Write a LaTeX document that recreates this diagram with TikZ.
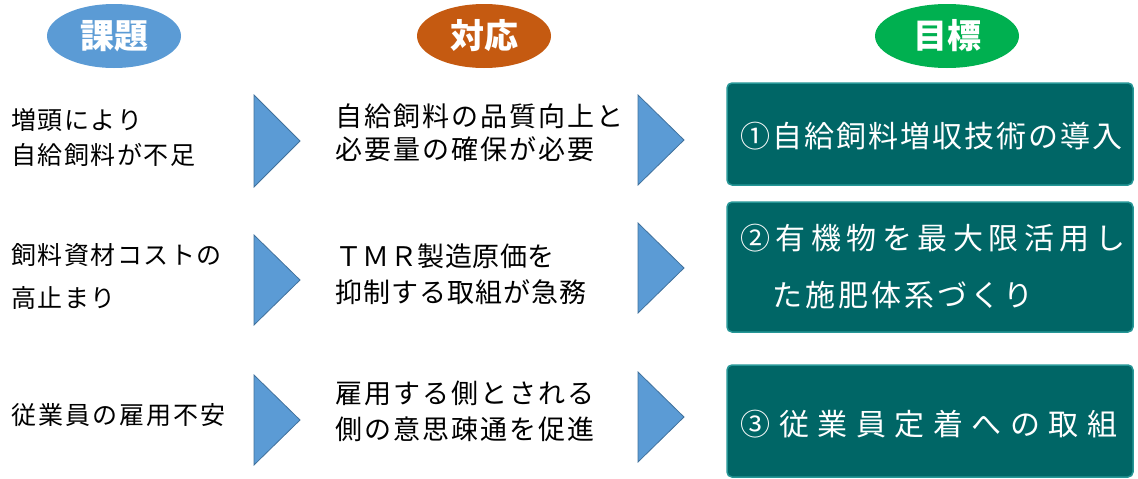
\documentclass[tikz,border=0pt]{standalone}
\usepackage{fontspec}
\setmainfont{Noto Sans CJK JP}
\usetikzlibrary{shapes.geometric}
\definecolor{hblue}{RGB}{91,155,213}
\definecolor{horange}{RGB}{197,90,17}
\definecolor{hgreen}{RGB}{0,176,80}
\definecolor{tblue}{RGB}{91,155,213}
\definecolor{tedge}{RGB}{65,113,156}
\definecolor{gfill}{RGB}{0,102,102}
\definecolor{gedge}{RGB}{38,150,150}
\def\spacedloop#1{\ifx\relax#1\else\hbox to \pitchlen{\hss#1\hss}\expandafter\spacedloop\fi}
\newcommand\spaced[2]{\def\pitchlen{#1}\spacedloop#2\relax}
\tikzset{
  hdr/.style={ellipse, inner sep=0pt, minimum width=134pt, minimum height=64pt, text=white,
    font=\bfseries\fontsize{34}{34}\selectfont},
  cola/.style={anchor=west, inner sep=0pt, text=black, font=\fontsize{25}{25}\selectfont},
  colb/.style={anchor=west, inner sep=0pt, text=black, font=\fontsize{27}{27}\selectfont},
  gtxt/.style={anchor=west, inner sep=0pt, text=white, font=\fontsize{30}{30}\selectfont},
  goalbox/.style={draw=gedge, fill=gfill, line width=1.5pt, rounded corners=5pt,
    minimum width=406pt, inner sep=0pt},
  tri/.style={fill=tblue, draw=tedge, line width=0.8pt, line join=miter}
}
\begin{document}
\begin{tikzpicture}[x=1pt,y=-1pt]
\useasboundingbox (0,0) rectangle (1138,479);
% headers
\node[hdr, fill=hblue] (h1) at (114,36) {課題};
\node[hdr, fill=horange] (h2) at (484,36) {対応};
\node[hdr, fill=hgreen, minimum width=144pt] (h3) at (947,36) {目標};
% column 1 texts
\node[cola] (a1) at (10.5,120) {\spaced{26.5pt}{増頭により}};
\node[cola] (a2) at (10.5,155) {\spaced{26.5pt}{自給飼料が不足}};
\node[cola] (b1) at (10.5,255) {\spaced{26.5pt}{飼料資材コストの}};
\node[cola] (b2) at (10.5,298) {\spaced{26.5pt}{高止まり}};
\node[cola] (c1) at (10.5,415) {\spaced{27pt}{従業員の雇用不安}};
% column 1 triangles
\draw[tri] (254,95) -- (300,141) -- (254,187) -- cycle;
\draw[tri] (254,235) -- (300,280) -- (254,325) -- cycle;
\draw[tri] (254,375) -- (300,420) -- (254,465) -- cycle;
% column 2 texts
\node[colb] (d1) at (334.5,116) {\spaced{29pt}{自給飼料の品質向上と}};
\node[colb] (d2) at (334.5,149) {\spaced{29pt}{必要量の確保が必要}};
\node[colb] (e1) at (335,256) {\spaced{27.5pt}{ＴＭＲ製造原価を}};
\node[colb] (e2) at (334.5,292) {\spaced{28pt}{抑制する取組が急務}};
\node[colb] (f1) at (334.5,393) {\spaced{29pt}{雇用する側とされる}};
\node[colb] (f2) at (334.5,429) {\spaced{29pt}{側の意思疎通を促進}};
% column 2 triangles
\draw[tri] (638,95) -- (684,140) -- (638,185) -- cycle;
\draw[tri] (638,223) -- (684,268) -- (638,313) -- cycle;
\draw[tri] (638,372) -- (684,417) -- (638,462) -- cycle;
% goal boxes
\node[goalbox, minimum height=102pt] (g1) at (930,134) {};
\node[goalbox, minimum height=130pt] (g2) at (930,267) {};
\node[goalbox, minimum height=112pt] (g3) at (930,421) {};
\node[gtxt] (t1) at (739.5,136) {\spaced{32pt}{①自給飼料増収技術の導入}};
\node[gtxt] (t2) at (737.5,238) {\spaced{35.5pt}{②有機物を最大限活用し}};
\node[gtxt] (t3) at (770.5,295) {\spaced{33pt}{た施肥体系づくり}};
\node[gtxt] (t4) at (736.5,424) {\spaced{38.5pt}{③従業員定着への取組}};
\end{tikzpicture}
\end{document}
